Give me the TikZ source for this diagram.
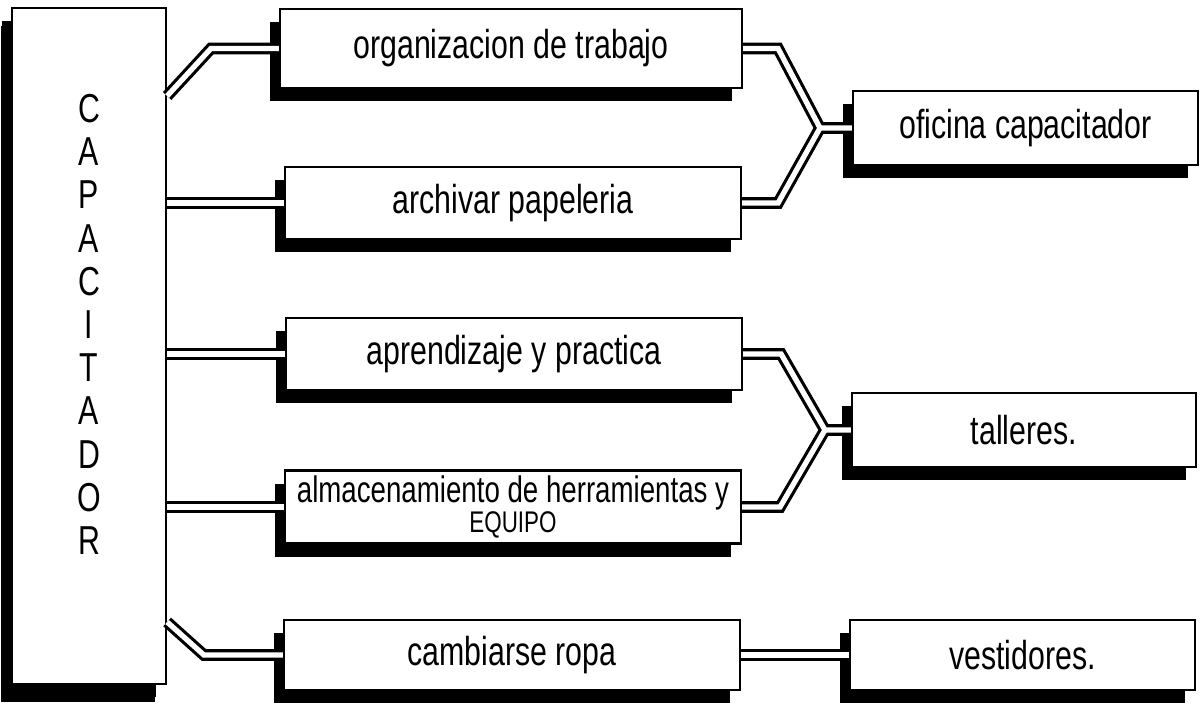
\documentclass[tikz,border=0pt]{standalone}
\usepackage{fontspec}
\usetikzlibrary{shadows}
\newfontfamily\mano[FakeStretch=0.75]{Liberation Sans}

\tikzset{
  caja/.style={draw, line width=1.3pt, fill=white, inner sep=0pt,
    minimum width=9.12cm, minimum height=1.44cm,
    font=\mano\fontsize{23}{26}\selectfont, align=center,
    drop shadow={shadow xshift=-5.5pt, shadow yshift=-7.5pt, fill=black, opacity=1}},
  destino/.style={caja, minimum width=6.9cm, minimum height=1.48cm},
  tubofondo/.style={line width=6.6pt, black},
  tubo/.style={line width=3pt, white},
}

\begin{document}
\begin{tikzpicture}[x=0.02cm, y=-0.02cm]
  \useasboundingbox (0,0) rectangle (1201,708);

  % caja grande de la izquierda
  \node[caja, minimum width=3.08cm, minimum height=13.52cm,
        font=\mano\fontsize{23}{24.6}\selectfont,
        drop shadow={shadow xshift=-6.5pt, shadow yshift=-10pt, fill=black, opacity=1}]
    (cap) at (89,346) {C\\A\\P\\A\\C\\I\\T\\A\\D\\O\\R\\\mbox{}};

  % actividades
  \node[caja, minimum width=9.24cm, minimum height=1.58cm] (org) at (511,48.5) {organizacion de trabajo};
  \node[caja] (arch) at (513,203) {archivar papeleria};
  \node[caja] (apr) at (514,354) {aprendizaje y practica};
  \node[caja, minimum height=1.46cm, font=\mano\fontsize{21}{24}\selectfont] (alm) at (513,507)
    {almacenamiento de herramientas y\\[-7pt]\fontsize{17}{17}\selectfont EQUIPO};
  \node[caja, minimum height=1.4cm] (cam) at (512,655) {cambiarse ropa};

  % locales
  \node[destino] (ofi) at (1025.5,128) {oficina capacitador};
  \node[destino, minimum width=6.88cm] (tal) at (1024,430) {talleres.};
  \node[destino, minimum height=1.4cm] (ves) at (1022.5,655) {vestidores.};

  \coordinate (j1) at (820,128);
  \coordinate (j2) at (825,430);

  % conexiones (primero el borde negro, luego el blanco)
  \foreach \capa in {tubofondo,tubo} {
    \draw[\capa] (org.west) -- ++(-68,0) -- (cap.east |- 0,96);
    \draw[\capa] (arch.west) -- (arch.west -| cap.east);
    \draw[\capa] (apr.west) -- (apr.west -| cap.east);
    \draw[\capa] (alm.west) -- (alm.west -| cap.east);
    \draw[\capa] (cam.west) -- ++(-79,0) -- (cap.east |- 0,622);

    \draw[\capa] (org.east) -- ++(35,0) -- (j1) -- (ofi.west);
    \draw[\capa] (arch.east) -- ++(36,0) -- (j1);
    \draw[\capa] (apr.east) -- ++(38,0) -- (j2) -- (tal.west);
    \draw[\capa] (alm.east) -- ++(38,0) -- (j2);
    \draw[\capa] (cam.east) -- (ves.west);
  }
\end{tikzpicture}
\end{document}
